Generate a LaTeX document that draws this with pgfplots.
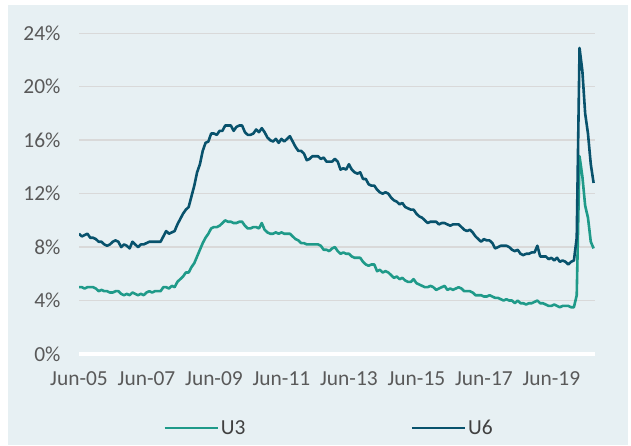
\documentclass[border=0pt]{standalone}
\usepackage{pgfplots}
\pgfplotsset{compat=1.18}
\usepackage{pgfplotstable}
\usepackage{fontspec}
\setmainfont{Carlito}
\definecolor{bg}{HTML}{E7F0F3}
\definecolor{gridgray}{HTML}{D9D9D9}
\definecolor{tickgray}{HTML}{595959}
\definecolor{legtext}{HTML}{404040}
\definecolor{u3col}{HTML}{1F9A89}
\definecolor{u6col}{HTML}{08526C}
% Monthly rates, Jun 2005 - Sep 2020
\pgfplotstableread{
u3 u6
5.0 9.0
5.0 8.8
4.9 8.9
5.0 9.0
5.0 8.7
5.0 8.7
4.9 8.6
4.7 8.4
4.8 8.4
4.7 8.2
4.7 8.1
4.6 8.2
4.6 8.4
4.7 8.5
4.7 8.4
4.5 8.0
4.4 8.2
4.5 8.1
4.4 7.9
4.6 8.4
4.5 8.2
4.4 8.0
4.5 8.2
4.4 8.2
4.6 8.3
4.7 8.4
4.6 8.4
4.7 8.4
4.7 8.4
4.7 8.4
5.0 8.8
5.0 9.2
4.9 9.0
5.1 9.1
5.0 9.2
5.4 9.7
5.6 10.1
5.8 10.5
6.1 10.8
6.1 11.0
6.5 11.8
6.8 12.6
7.3 13.6
7.8 14.2
8.3 15.2
8.7 15.8
9.0 15.9
9.4 16.5
9.5 16.5
9.5 16.4
9.6 16.7
9.8 16.7
10.0 17.1
9.9 17.1
9.9 17.1
9.8 16.7
9.8 17.0
9.9 17.1
9.9 17.1
9.6 16.6
9.4 16.4
9.4 16.4
9.5 16.5
9.5 16.8
9.4 16.6
9.8 16.9
9.3 16.6
9.1 16.2
9.0 16.0
9.0 15.9
9.1 16.1
9.0 15.8
9.1 16.1
9.0 15.9
9.0 16.1
9.0 16.3
8.8 15.9
8.6 15.5
8.5 15.2
8.3 15.2
8.3 15.0
8.2 14.5
8.2 14.6
8.2 14.8
8.2 14.8
8.2 14.8
8.1 14.6
7.8 14.7
7.8 14.4
7.7 14.4
7.9 14.4
8.0 14.6
7.7 14.4
7.5 13.8
7.6 13.9
7.5 13.8
7.5 14.2
7.3 13.8
7.2 13.6
7.2 13.5
7.2 13.6
6.9 13.1
6.7 13.1
6.6 12.7
6.7 12.6
6.7 12.6
6.2 12.3
6.3 12.1
6.1 12.0
6.2 12.1
6.1 12.0
5.9 11.7
5.7 11.5
5.8 11.4
5.6 11.2
5.7 11.3
5.5 11.0
5.4 10.9
5.4 10.8
5.6 10.8
5.3 10.5
5.2 10.3
5.1 10.2
5.0 10.0
5.0 9.8
5.1 9.9
5.0 9.9
4.8 9.9
4.9 9.7
5.0 9.8
5.1 9.8
4.8 9.7
4.9 9.6
4.8 9.7
4.9 9.7
5.0 9.7
4.9 9.5
4.7 9.3
4.7 9.2
4.7 9.3
4.6 9.1
4.4 8.8
4.4 8.6
4.4 8.4
4.3 8.6
4.3 8.5
4.4 8.5
4.3 8.3
4.2 7.9
4.2 8.0
4.1 8.1
4.0 8.1
4.1 8.1
4.0 8.0
4.0 7.8
3.8 7.7
4.0 7.8
3.8 7.5
3.8 7.4
3.7 7.5
3.8 7.5
3.8 7.6
3.9 7.6
4.0 8.1
3.8 7.3
3.8 7.3
3.7 7.3
3.6 7.1
3.6 7.2
3.7 7.0
3.6 7.2
3.5 6.9
3.6 7.0
3.6 6.9
3.6 6.7
3.5 6.9
3.5 7.0
4.4 8.7
14.8 22.9
13.3 21.2
11.1 18.0
10.2 16.5
8.4 14.2
7.9 12.8
}\ratedata

\begin{document}
\begin{tikzpicture}
\useasboundingbox (0bp,0bp) rectangle (631bp,446bp);
\fill[bg] (8bp,1bp) rectangle (628bp,441bp);
\begin{axis}[
  at={(79bp,92bp)}, anchor=south west,
  scale only axis, width=516bp, height=320.7bp,
  xmin=0, xmax=183.5, ymin=0, ymax=24,
  axis x line*=bottom, axis y line*=left,
  x axis line style={draw=white, line width=3.5bp},
  y axis line style={draw=none},
  major tick length=0pt,
  ytick={0,4,...,24},
  yticklabel={\pgfmathprintnumber{\tick}\%},
  xtick={0,24,48,72,96,120,144,168},
  xticklabels={Jun-05,Jun-07,Jun-09,Jun-11,Jun-13,Jun-15,Jun-17,Jun-19},
  ymajorgrids,
  grid style={draw=gridgray, line width=1.5bp},
  /pgf/number format/assume math mode=true,
  ticklabel style={font=\fontsize{21.5}{25}\selectfont, text=tickgray},
  yticklabel style={xshift=-15bp},
  xticklabel style={yshift=-14bp},
  legend style={at={(0.4845,-0.231)}, anchor=center, draw=none, fill=none,
    font=\fontsize{21.5}{25}\selectfont, text=legtext,
    /tikz/every even column/.append style={column sep=163bp}},
  legend columns=2,
  legend image code/.code={\draw[#1, line width=2.6bp] (0bp,0bp) -- (53bp,0bp);},
  line join=round,
]
\addplot[u3col, line width=2.6bp, mark=none] table[x expr=\coordindex, y=u3] {\ratedata};
\addlegendentry{U3}
\addplot[u6col, line width=2.6bp, mark=none] table[x expr=\coordindex, y=u6] {\ratedata};
\addlegendentry{U6}
\end{axis}
\end{tikzpicture}
\end{document}
